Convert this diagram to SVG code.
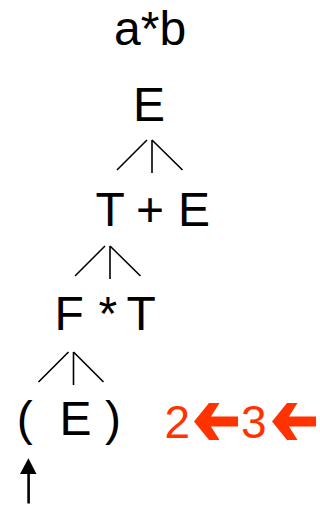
<svg xmlns="http://www.w3.org/2000/svg" width="320" height="506" viewBox="0 0 320 506">
  <style>
    .t { font-family: "Liberation Sans", Arial, sans-serif; font-size: 48px; fill: #000; }
    .r { font-family: "Liberation Sans", Arial, sans-serif; font-size: 46px; fill: #ff3300; }
    .ln { stroke: #000; stroke-width: 1.6; fill: none; }
    .ra { fill: #ff3300; }
  </style>
  <rect width="320" height="506" fill="#fff"/>
  <g id="input"><text class="t" x="114" y="45">a*b</text></g>
  <g id="n-E1"><text class="t" x="133" y="121">E</text></g>
  <g id="n-TplusE"><text class="t" y="226"><tspan x="95.5">T</tspan><tspan x="136">+</tspan><tspan x="178">E</tspan></text></g>
  <g id="n-FstarT"><text class="t" y="330"><tspan x="54.4">F</tspan><tspan x="98.5">*</tspan><tspan x="126.6">T</tspan></text></g>
  <g id="n-parenE"><text class="t" y="435"><tspan x="16.8">(</tspan><tspan x="59.5">E</tspan><tspan x="105">)</tspan></text></g>
  <g id="connectors">
    <path class="ln" d="M147,140 L117,170 M152,140 L152,173 M152,140 L182.5,170"/>
    <path class="ln" d="M105,246 L75,276 M110,246 L110,279 M110,246 L140.5,276"/>
    <path class="ln" d="M68.5,352 L38.5,382 M73.5,352 L73.5,385 M73.5,352 L103.5,382"/>
  </g>
  <g id="pointer">
    <line x1="28.6" y1="472" x2="28.6" y2="503.5" stroke="#000" stroke-width="2.6"/>
    <polygon points="28.4,458.3 20,474 36.5,474" fill="#000"/>
  </g>
  <g id="steps">
    <text class="r" x="164.5" y="438">2</text>
    <polygon class="ra" points="194,421.5 209,403 219.5,403 211,416.5 238,416.5 238,426.5 211,426.5 219.5,440 209,440"/>
    <text class="r" x="241" y="438">3</text>
    <polygon class="ra" points="272,421.5 287,403 297.5,403 289,416.5 316,416.5 316,426.5 289,426.5 297.5,440 287,440"/>
  </g>
</svg>
